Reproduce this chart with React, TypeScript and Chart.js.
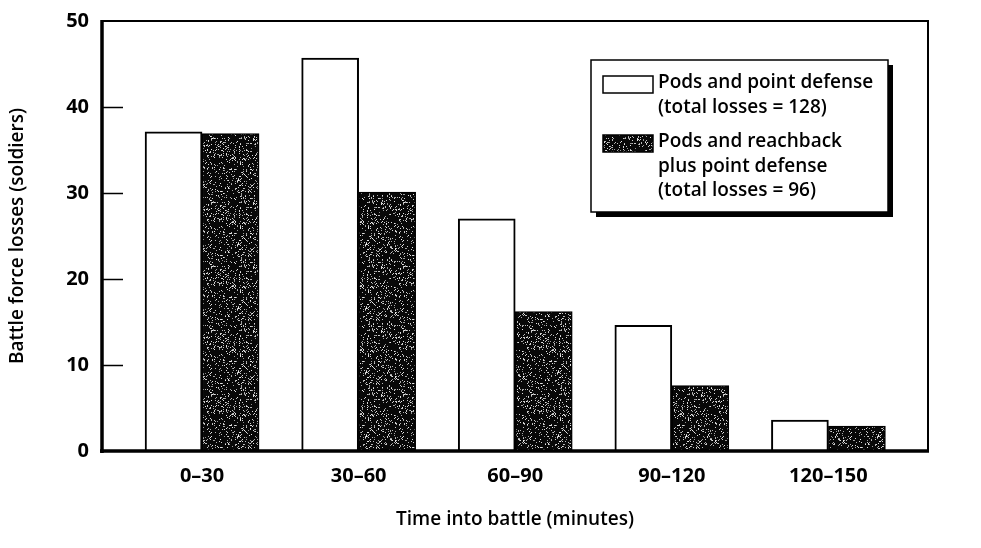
import React, { useEffect, useRef } from "react";
import { Chart, registerables } from "chart.js";

Chart.register(...registerables);

const categories = ["0–30", "30–60", "60–90", "90–120", "120–150"];
const podsPointDefense = [37.1, 45.7, 27, 14.6, 3.6];
const podsReachback = [36.9, 30.1, 16.2, 7.6, 2.9];
const seriesLabels = [
  ["Pods and point defense", "(total losses = 128)"],
  ["Pods and reachback", "plus point defense", "(total losses = 96)"],
];
const yTicks = [0, 10, 20, 30, 40, 50];
const xTitle = "Time into battle (minutes)";
const yTitle = "Battle force losses (soldiers)";

const FONT = "'Open Sans', 'DejaVu Sans', sans-serif";

function makePattern(): CanvasPattern | string {
  const c = document.createElement("canvas");
  c.width = 64;
  c.height = 64;
  const ctx = c.getContext("2d");
  if (!ctx) return "#222";
  ctx.fillStyle = "#080808";
  ctx.fillRect(0, 0, 64, 64);
  let seed = 12345;
  const rnd = () => {
    seed = (seed * 1103515245 + 12345) & 0x7fffffff;
    return seed / 0x7fffffff;
  };
  for (let y = 0; y < 64; y++) {
    for (let x = 0; x < 64; x++) {
      if (rnd() < 0.13) {
        const g = Math.floor(140 + rnd() * 100);
        ctx.fillStyle = `rgb(${g},${g},${g})`;
        ctx.fillRect(x, y, 1, 1);
      }
    }
  }
  return ctx.createPattern(c, "repeat") || "#222";
}

export default function App() {
  const ref = useRef<HTMLCanvasElement | null>(null);

  useEffect(() => {
    if (!ref.current) return;
    const pattern = makePattern();

    const framePlugin = {
      id: "frameAndLegend",
      afterDatasetsDraw(chart: any) {
        const { ctx, chartArea } = chart;
        const { left, right, top, bottom } = chartArea;
        const yScale = chart.scales.y;
        ctx.save();
        ctx.strokeStyle = "#000";
        ctx.lineCap = "butt";
        ctx.lineWidth = 2;
        ctx.beginPath();
        ctx.moveTo(left, top);
        ctx.lineTo(right, top);
        ctx.moveTo(right, top - 1);
        ctx.lineTo(right, bottom);
        ctx.stroke();
        ctx.lineWidth = 3.5;
        ctx.beginPath();
        ctx.moveTo(left, top - 1);
        ctx.lineTo(left, bottom + 2);
        ctx.moveTo(left - 2, bottom);
        ctx.lineTo(right + 1, bottom);
        ctx.stroke();
        ctx.lineWidth = 1.6;
        ctx.beginPath();
        yTicks.forEach((v) => {
          if (v === 0 || v === 50) return;
          const y = Math.round(yScale.getPixelForValue(v)) + 0.5;
          ctx.moveTo(left, y);
          ctx.lineTo(left + 21, y);
        });
        ctx.stroke();

        // legend
        const bx = 591, by = 60, bw = 297, bh = 152;
        ctx.fillStyle = "#000";
        ctx.fillRect(bx + 5, by + 5, bw, bh);
        ctx.fillStyle = "#fff";
        ctx.fillRect(bx, by, bw, bh);
        ctx.lineWidth = 1.5;
        ctx.strokeRect(bx, by, bw, bh);

        const fills = ["#fff", pattern];
        const swY = [76, 135];
        ctx.font = `600 19px ${FONT}`;
        ctx.textBaseline = "middle";
        ctx.textAlign = "left";
        seriesLabels.forEach((lines, i) => {
          ctx.fillStyle = fills[i] as any;
          ctx.fillRect(603, swY[i], 50, 17);
          ctx.lineWidth = 1.5;
          ctx.strokeStyle = "#000";
          ctx.strokeRect(603, swY[i], 50, 17);
          ctx.fillStyle = "#000";
          lines.forEach((t, j) => {
            ctx.fillText(t, 658, swY[i] + 7 + j * 24.5);
          });
        });
        ctx.restore();
      },
    };

    const chart = new Chart(ref.current, {
      type: "bar",
      data: {
        datasets: [
          {
            label: seriesLabels[0].join(" "),
            data: podsPointDefense.map((v, i) => ({ x: i, y: v })),
            backgroundColor: "#ffffff",
            borderColor: "#000",
            borderWidth: 2,
            barThickness: 57,
          },
          {
            label: seriesLabels[1].join(" "),
            data: podsReachback.map((v, i) => ({ x: i, y: v })),
            backgroundColor: pattern as any,
            borderColor: "#000",
            borderWidth: 1.5,
            barThickness: 57,
          },
        ],
      },
      options: {
        animation: false,
        responsive: false,
        events: [],
        layout: { padding: { left: 0, top: 21, right: 53, bottom: 0 } },
        plugins: { legend: { display: false }, tooltip: { enabled: false } },
        scales: {
          x: {
            type: "linear",
            offset: false,
            min: -0.639,
            max: 4.636,
            grid: { display: false, drawTicks: false, offset: false },
            border: { display: false },
            afterFit: (s: any) => {
              s.height = 97;
              s.paddingLeft = 0;
              s.paddingRight = 0;
            },
            afterBuildTicks: (s: any) => {
              s.ticks = categories.map((_, i) => ({ value: i }));
            },
            ticks: {
              padding: 13,
              color: "#000",
              font: { family: FONT, size: 20, weight: "700" },
              callback: (v: any) => categories[v as number] ?? "",
            },
            title: {
              display: true,
              text: xTitle,
              color: "#000",
              font: { family: FONT, size: 19, weight: "600" },
              padding: { top: 0, bottom: 17 },
            },
          },
          y: {
            min: 0,
            max: 50,
            grid: { display: false, drawTicks: false },
            border: { display: false },
            afterFit: (s: any) => {
              s.width = 102;
              s.paddingTop = 0;
              s.paddingBottom = 0;
            },
            afterBuildTicks: (s: any) => {
              s.ticks = yTicks.map((v) => ({ value: v }));
            },
            ticks: {
              padding: 13,
              color: "#000",
              font: { family: FONT, size: 20, weight: "700" },
            },
            title: {
              display: true,
              text: yTitle,
              color: "#000",
              font: { family: FONT, size: 19, weight: "600" },
              padding: { top: 6, bottom: 0 },
            },
          },
        },
      },
      plugins: [framePlugin],
    });
    return () => chart.destroy();
  }, []);

  return (
    <div style={{ position: "fixed", left: 0, top: 0, width: 981, height: 548, background: "#fff" }}>
      <canvas ref={ref} width={981} height={548} style={{ width: 981, height: 548, display: "block" }} />
    </div>
  );
}
